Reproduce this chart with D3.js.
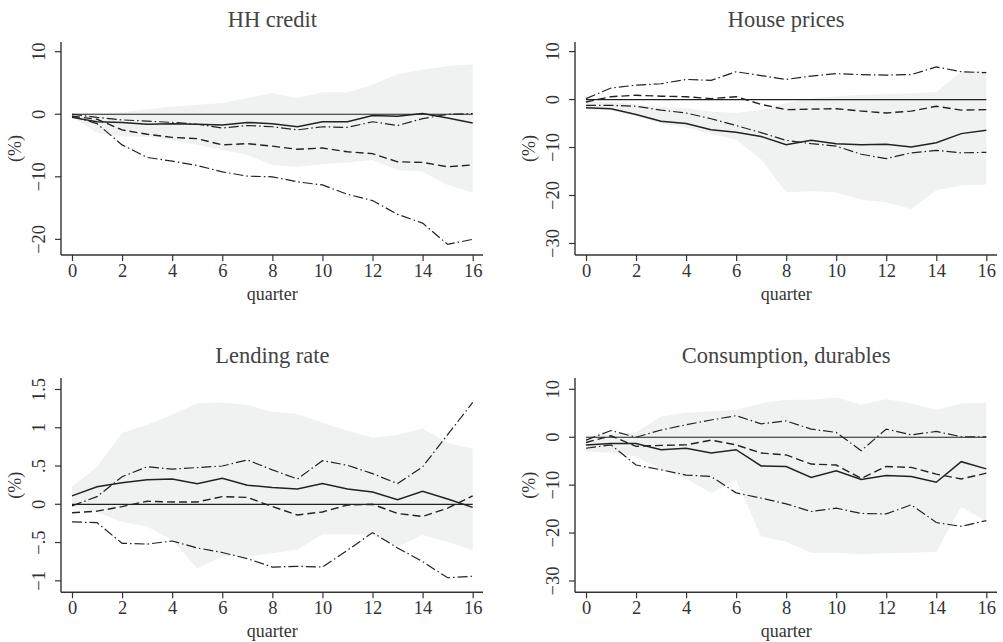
<!DOCTYPE html>
<html>
<head>
<meta charset="utf-8">
<script src="https://cdnjs.cloudflare.com/ajax/libs/d3/7.8.5/d3.min.js"></script>
<style>
  body { margin: 0; background: #fff; }
  svg { display: block; }
  text { font-family: "Liberation Serif", "DejaVu Serif", serif; }
</style>
</head>
<body>
<svg></svg>
<script>
var width = 1003;
var height = 642;

var quarters = d3.range(0, 17);

// HH credit
var hhMedian = [-0.5, -1.2, -1.3, -1.6, -1.5, -1.6, -1.7, -1.3, -1.5, -2.0, -1.2, -1.2, -0.2, -0.3, 0.1, -0.6, -1.4];
var hhDash   = [-0.3, -0.8, -2.5, -3.2, -3.7, -3.9, -4.9, -4.7, -5.1, -5.6, -5.4, -6.0, -6.3, -7.6, -7.7, -8.4, -8.1];
var hhDotHi  = [0.0, -0.5, -0.9, -1.1, -1.3, -1.6, -2.2, -1.8, -2.0, -2.5, -2.0, -2.1, -1.2, -1.8, -0.7, 0.0, 0.1];
var hhDotLo  = [-0.3, -1.5, -4.9, -6.9, -7.5, -8.2, -9.2, -9.9, -10.0, -10.8, -11.3, -12.8, -13.8, -16.0, -17.4, -20.8, -20.0];
var hhBandHi = [0.2, 0.1, 0.3, 0.8, 1.2, 1.5, 1.8, 2.6, 3.4, 2.6, 3.5, 3.5, 4.7, 6.4, 7.1, 7.7, 8.0];
var hhBandLo = [-0.4, -3.0, -3.5, -3.6, -4.1, -4.9, -5.7, -6.5, -8.1, -8.4, -8.0, -7.7, -7.3, -8.9, -9.2, -11.3, -12.5];

// House prices
var hpMedian = [-1.7, -1.9, -3.1, -4.5, -5.0, -6.3, -6.8, -7.7, -9.4, -8.5, -9.2, -9.4, -9.3, -9.9, -9.0, -7.1, -6.4];
var hpDash   = [-0.5, 0.6, 0.9, 0.7, 0.6, 0.2, 0.6, -1.0, -2.1, -2.0, -1.9, -2.4, -2.8, -2.4, -1.4, -2.2, -2.1];
var hpDotHi  = [0.2, 2.4, 3.0, 3.3, 4.2, 4.0, 5.8, 5.0, 4.2, 4.9, 5.4, 5.2, 5.1, 5.2, 6.8, 5.8, 5.6];
var hpDotLo  = [-1.2, -1.2, -1.4, -2.2, -2.8, -4.0, -5.4, -6.9, -8.5, -9.2, -9.7, -11.4, -12.3, -11.1, -10.6, -11.1, -11.0];
var hpBandHi = [-0.5, -0.5, -1.0, -1.5, -1.8, -2.5, -2.8, -2.2, -0.7, 0.2, 0.7, 1.0, 1.1, 1.3, 1.6, 5.8, 6.1];
var hpBandLo = [-2.0, -2.3, -3.4, -5.0, -5.8, -7.2, -8.3, -12.5, -19.3, -19.1, -19.3, -20.9, -21.4, -22.8, -18.9, -17.9, -17.7];

// Lending rate
var lrMedian = [0.11, 0.23, 0.28, 0.32, 0.33, 0.27, 0.34, 0.25, 0.22, 0.20, 0.27, 0.20, 0.16, 0.06, 0.17, 0.07, -0.04];
var lrDash   = [-0.11, -0.09, -0.03, 0.04, 0.03, 0.03, 0.10, 0.09, -0.03, -0.14, -0.10, -0.01, 0.00, -0.12, -0.16, -0.05, 0.11];
var lrDotHi  = [-0.02, 0.10, 0.36, 0.49, 0.46, 0.48, 0.50, 0.58, 0.45, 0.33, 0.57, 0.51, 0.40, 0.27, 0.49, 0.91, 1.33];
var lrDotLo  = [-0.23, -0.24, -0.51, -0.52, -0.48, -0.57, -0.63, -0.71, -0.82, -0.81, -0.82, -0.60, -0.37, -0.57, -0.75, -0.96, -0.94];
var lrBandHi = [0.23, 0.49, 0.93, 1.04, 1.17, 1.32, 1.33, 1.30, 1.21, 1.18, 1.07, 0.96, 0.87, 0.91, 0.99, 0.80, 0.73];
var lrBandLo = [-0.03, -0.10, -0.23, -0.29, -0.47, -0.84, -0.68, -0.68, -0.64, -0.59, -0.39, -0.39, -0.40, -0.55, -0.40, -0.49, -0.60];

// Consumption, durables
var cdMedian = [-1.6, -1.3, -1.3, -2.6, -2.3, -3.3, -2.6, -6.0, -6.1, -8.4, -7.0, -8.8, -8.0, -8.2, -9.4, -5.1, -6.6];
var cdDash   = [-1.1, 0.3, -1.9, -1.7, -1.6, -0.6, -1.6, -3.3, -3.7, -5.6, -5.8, -8.6, -6.1, -6.3, -7.7, -8.7, -7.5];
var cdDotHi  = [-0.6, 1.4, 0.0, 1.5, 2.6, 3.6, 4.5, 2.8, 3.4, 1.7, 1.0, -2.8, 1.7, 0.5, 1.2, 0.1, 0.1];
var cdDotLo  = [-2.3, -1.6, -5.8, -6.8, -7.9, -8.2, -11.6, -12.7, -13.9, -15.5, -14.8, -15.9, -16.0, -14.1, -17.8, -18.6, -17.4];
var cdBandHi = [0.2, 0.8, 1.0, 4.3, 5.1, 5.4, 5.7, 7.1, 7.8, 7.8, 8.3, 6.8, 7.9, 7.1, 5.7, 7.1, 7.2];
var cdBandLo = [-3.0, -3.3, -4.0, -6.8, -8.6, -11.7, -8.9, -20.7, -21.8, -24.1, -24.1, -24.4, -24.2, -24.1, -23.9, -14.5, -17.6];

var xTicks = [0, 2, 4, 6, 8, 10, 12, 14, 16];

var panels = [
  { title: "HH credit", left: 61, right: 483, x0: 72, x16: 472.7, top: 42, bottom: 255,
    ydom: [-22.5, 11.55], yticks: [-20, -10, 0, 10],
    median: hhMedian, dash: hhDash, hi: hhDotHi, lo: hhDotLo, bandHi: hhBandHi, bandLo: hhBandLo },
  { title: "House prices", left: 575, right: 997, x0: 586, x16: 986.3, top: 42, bottom: 255,
    ydom: [-32.4, 12.0], yticks: [-30, -20, -10, 0, 10],
    median: hpMedian, dash: hpDash, hi: hpDotHi, lo: hpDotLo, bandHi: hpBandHi, bandLo: hpBandLo },
  { title: "Lending rate", left: 61, right: 483, x0: 72, x16: 472.7, top: 378, bottom: 592.3,
    ydom: [-1.15, 1.65], yticks: [-1, -0.5, 0, 0.5, 1, 1.5],
    median: lrMedian, dash: lrDash, hi: lrDotHi, lo: lrDotLo, bandHi: lrBandHi, bandLo: lrBandLo },
  { title: "Consumption, durables", left: 575, right: 997, x0: 586, x16: 986.3, top: 378, bottom: 592.3,
    ydom: [-32.36, 12.36], yticks: [-30, -20, -10, 0, 10],
    median: cdMedian, dash: cdDash, hi: cdDotHi, lo: cdDotLo, bandHi: cdBandHi, bandLo: cdBandLo }
];

var svg = d3.select("svg")
            .attr("width", width)
            .attr("height", height);

// tick label like Stata: .5, -.5, unicode minus
function fmt(v) {
  var s = String(Math.abs(v)).replace(/^0\./, ".");
  return (v < 0 ? "\u2212" : "") + s;
}

panels.forEach(function(p) {
  var g = svg.append("g");

  var xScale = d3.scaleLinear().domain([0, 16]).range([p.x0, p.x16]);
  var yScale = d3.scaleLinear().domain(p.ydom).range([p.bottom, p.top]);

  // confidence band
  var area = d3.area()
    .x(function(d, i) { return xScale(quarters[i]); })
    .y0(function(d, i) { return yScale(p.bandLo[i]); })
    .y1(function(d) { return yScale(d); });
  g.append("path")
   .datum(p.bandHi)
   .attr("d", area)
   .attr("fill", "#f0f1f1")
   .attr("stroke", "none");

  var line = d3.line()
    .x(function(d, i) { return xScale(quarters[i]); })
    .y(function(d) { return yScale(d); });

  // zero line
  g.append("path")
   .datum(quarters.map(function() { return 0; }))
   .attr("d", line)
   .attr("fill", "none")
   .attr("stroke", "#222")
   .attr("stroke-width", 1.2);

  g.append("path").datum(p.hi).attr("d", line)
   .attr("fill", "none").attr("stroke", "#222").attr("stroke-width", 1.2)
   .attr("stroke-dasharray", "10,3,1.5,3");
  g.append("path").datum(p.lo).attr("d", line)
   .attr("fill", "none").attr("stroke", "#222").attr("stroke-width", 1.2)
   .attr("stroke-dasharray", "10,3,1.5,3");
  g.append("path").datum(p.dash).attr("d", line)
   .attr("fill", "none").attr("stroke", "#222").attr("stroke-width", 1.4)
   .attr("stroke-dasharray", "8,4");
  g.append("path").datum(p.median).attr("d", line)
   .attr("fill", "none").attr("stroke", "#222").attr("stroke-width", 1.5);

  // axes
  var xAxis = g.append("g")
     .attr("transform", "translate(0," + p.bottom + ")")
     .call(d3.axisBottom(xScale).tickValues(xTicks).tickSize(6).tickSizeOuter(0).tickPadding(3));
  xAxis.select(".domain").remove();
  xAxis.selectAll("text").attr("font-size", 18.5).attr("fill", "#333");
  xAxis.selectAll("line").attr("stroke", "#333").attr("stroke-width", 1.2);

  var yAxis = g.append("g")
     .attr("transform", "translate(" + p.left + ",0)")
     .call(d3.axisLeft(yScale).tickValues(p.yticks).tickFormat(fmt).tickSize(6).tickSizeOuter(0));
  yAxis.select(".domain").remove();
  yAxis.selectAll("line").attr("stroke", "#333").attr("stroke-width", 1.2);
  yAxis.selectAll("text")
       .attr("font-size", 18.5).attr("fill", "#333")
       .attr("x", null).attr("dy", null)
       .attr("text-anchor", "middle")
       .attr("transform", function(d) { return "translate(-16," + yScale(d) + ") rotate(-90)"; })
       .attr("y", 0);
  yAxis.selectAll(".tick").attr("transform", null);
  yAxis.selectAll(".tick line")
       .attr("y1", function(d) { return yScale(d); })
       .attr("y2", function(d) { return yScale(d); });

  g.append("line")
   .attr("x1", p.left).attr("x2", p.right)
   .attr("y1", p.bottom).attr("y2", p.bottom)
   .attr("stroke", "#333").attr("stroke-width", 1.4);
  g.append("line")
   .attr("x1", p.left).attr("x2", p.left)
   .attr("y1", p.top).attr("y2", p.bottom)
   .attr("stroke", "#333").attr("stroke-width", 1.4);

  // labels
  g.append("text")
   .attr("x", (p.x0 + p.x16) / 2)
   .attr("y", p.top - 15)
   .attr("text-anchor", "middle")
   .attr("font-size", 22.5)
   .attr("fill", "#444")
   .text(p.title);

  g.append("text")
   .attr("x", (p.x0 + p.x16) / 2)
   .attr("y", p.bottom + 45)
   .attr("text-anchor", "middle")
   .attr("font-size", 18)
   .attr("fill", "#333")
   .text("quarter");

  g.append("text")
   .attr("transform", "translate(" + (p.left - 40) + "," + ((p.top + p.bottom) / 2) + ") rotate(-90)")
   .attr("text-anchor", "middle")
   .attr("font-size", 18)
   .attr("fill", "#333")
   .text("(%)");
});
</script>
</body>
</html>
